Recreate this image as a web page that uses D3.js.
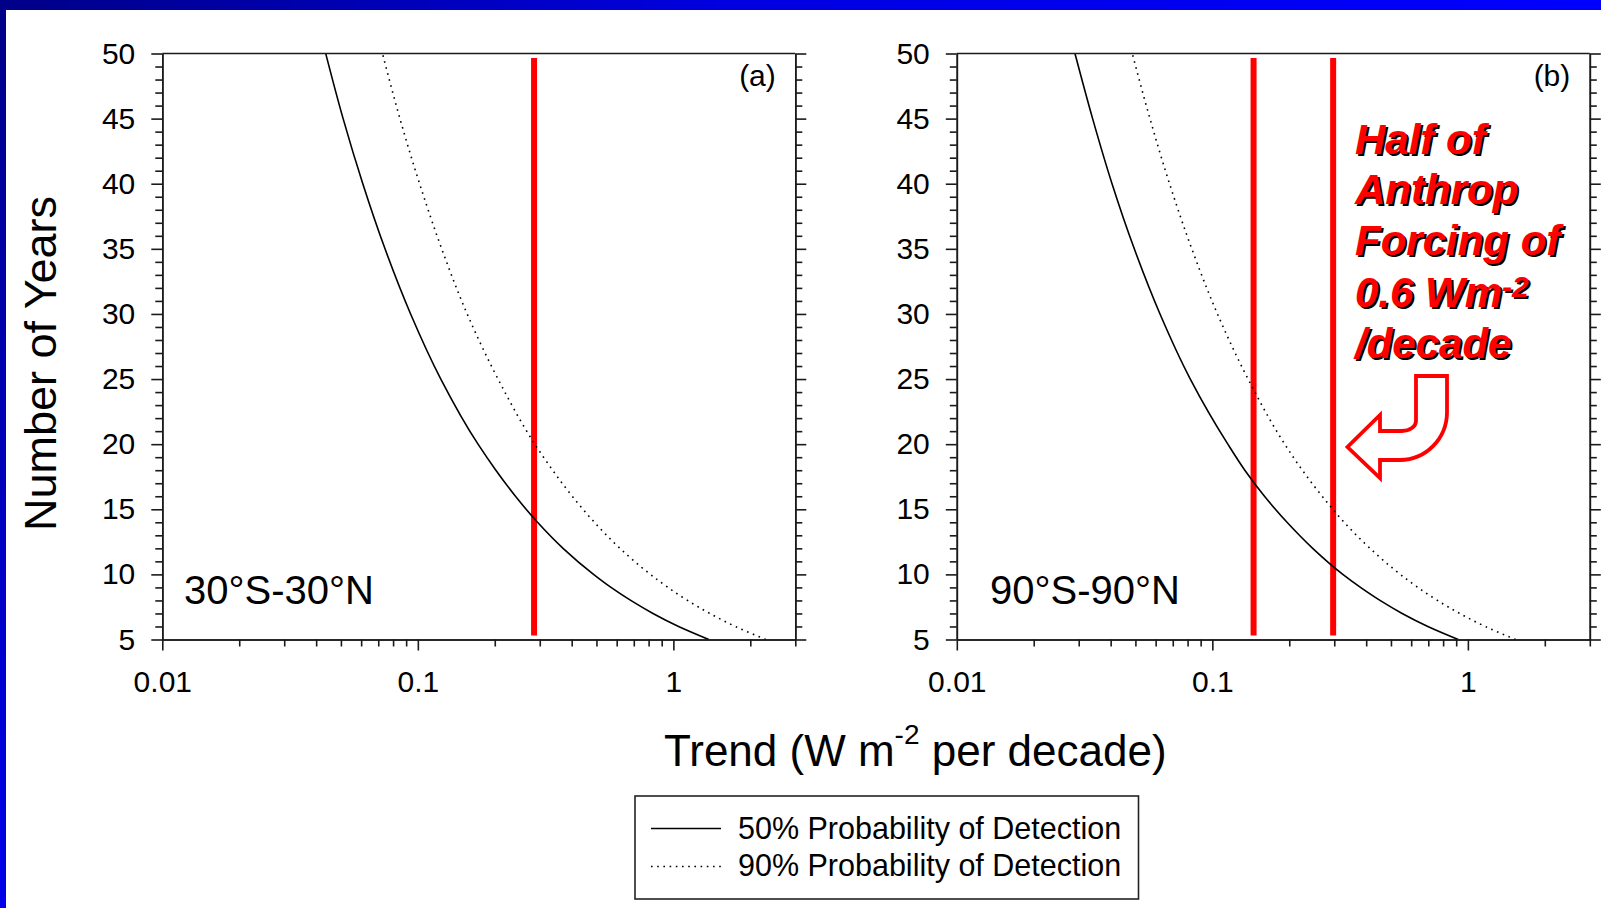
<!DOCTYPE html>
<html><head><meta charset="utf-8">
<script src="https://cdn.jsdelivr.net/npm/d3@7"></script>
<style>
body{margin:0;background:#fff}
svg{display:block}
text{font-family:"Liberation Sans",Arial,Helvetica,sans-serif}
</style>
</head><body>
<svg id="c" width="1601" height="908"></svg>
<script>
// ---------------- data ----------------
const years = [5, 6, 7, 8, 9, 10, 12, 14, 16, 18, 20, 25, 30, 35, 40, 45, 50];
// (a) 30S-30N
const tropics50 = [1.377, 1.048, 0.832, 0.681, 0.570, 0.487, 0.370, 0.294, 0.241, 0.202, 0.172, 0.123, 0.0937, 0.0744, 0.0609, 0.0510, 0.0436];
const tropics90 = [2.299, 1.749, 1.388, 1.136, 0.952, 0.813, 0.618, 0.491, 0.402, 0.337, 0.287, 0.206, 0.156, 0.124, 0.1016, 0.0851, 0.0727];
// (b) 90S-90N
const global50 = [0.917, 0.697, 0.553, 0.453, 0.380, 0.324, 0.247, 0.196, 0.160, 0.134, 0.115, 0.082, 0.0624, 0.0495, 0.0405, 0.0340, 0.0290];
const global90 = [1.538, 1.170, 0.929, 0.760, 0.637, 0.544, 0.414, 0.328, 0.269, 0.225, 0.192, 0.138, 0.1047, 0.0831, 0.0680, 0.0570, 0.0486];
// red reference trends
const tropicsMarkers = [0.285];
const globalMarkers = [0.145, 0.297];
// axes
const xDomain = [0.01, 3];
const yDomain = [5, 50];
const xMajorTicks = [0.01, 0.1, 1];
const xTickLabels = ["0.01", "0.1", "1"];
const xMinorTicks = [0.02, 0.03, 0.04, 0.05, 0.06, 0.07, 0.08, 0.09, 0.2, 0.3, 0.4, 0.5, 0.6, 0.7, 0.8, 0.9, 2, 3];
const yMajorTicks = [5, 10, 15, 20, 25, 30, 35, 40, 45, 50];
const yTickLabels = ["5", "10", "15", "20", "25", "30", "35", "40", "45", "50"];
const legendLabels = ["50% Probability of Detection", "90% Probability of Detection"];
const panelTags = ["(a)", "(b)"];
const regionNames = ["30°S-30°N", "90°S-90°N"];
const annotationLines = ["Half of", "Anthrop", "Forcing of", "0.6 Wm", "/decade"];

// ---------------- layout ----------------
const FONT = '"Liberation Sans", Arial, Helvetica, sans-serif';
const svg = d3.select("#c");
const W = 1601, H = 908;
const defs = svg.append("defs");
const gTop = defs.append("linearGradient").attr("id", "gTop").attr("x1", 0).attr("x2", 1).attr("y1", 0).attr("y2", 0);
gTop.append("stop").attr("offset", 0).attr("stop-color", "#000088");
gTop.append("stop").attr("offset", 0.45).attr("stop-color", "#0000e0");
gTop.append("stop").attr("offset", 1).attr("stop-color", "#0000ff");
const gLeft = defs.append("linearGradient").attr("id", "gLeft").attr("x1", 0).attr("x2", 0).attr("y1", 0).attr("y2", 1);
gLeft.append("stop").attr("offset", 0).attr("stop-color", "#000088");
gLeft.append("stop").attr("offset", 1).attr("stop-color", "#0000ea");

svg.append("rect").attr("width", W).attr("height", H).attr("fill", "#fff");
svg.append("rect").attr("x", 0).attr("y", 0).attr("width", W).attr("height", 10).attr("fill", "url(#gTop)");
svg.append("rect").attr("x", 0).attr("y", 0).attr("width", 6).attr("height", H).attr("fill", "url(#gLeft)");

const plotTop = 53.5, plotBottom = 639.5, plotW = 633;
const y = d3.scaleLinear().domain(yDomain).range([plotBottom, plotTop]);
const yMinorTicks = d3.range(5, 51).filter(v => v % 5 !== 0);
const AX = "#1a1a1a";

function styleAxis(sel, fs) {
  sel.attr("color", AX).attr("font-family", FONT).attr("font-size", fs);
  sel.selectAll(".tick line").attr("stroke-width", 1.6);
  sel.select(".domain").attr("stroke-width", 1.6);
  sel.selectAll("text").attr("fill", "#000");
}

const panels = [
  { left: 162.3, s50: tropics50, s90: tropics90, markers: tropicsMarkers, tag: panelTags[0], region: regionNames[0], regionX: 184 },
  { left: 956.8, s50: global50, s90: global90, markers: globalMarkers, tag: panelTags[1], region: regionNames[1], regionX: 990 }
];

panels.forEach(p => {
  const x = d3.scaleLog().domain(xDomain).range([p.left, p.left + plotW]);
  const g = svg.append("g");

  // red reference lines
  g.selectAll("line.marker").data(p.markers).enter().append("line")
    .attr("class", "marker")
    .attr("x1", d => x(d)).attr("x2", d => x(d))
    .attr("y1", y(49.65)).attr("y2", y(5.3))
    .attr("stroke", "#ff0000").attr("stroke-width", 6);

  // curves
  const line = d3.line().x(d => x(d[1])).y(d => y(d[0])).curve(d3.curveMonotoneY);
  g.append("path").datum(years.map((n, i) => [n, p.s50[i]]))
    .attr("d", line).attr("fill", "none").attr("stroke", "#000").attr("stroke-width", 1.6);
  g.append("path").datum(years.map((n, i) => [n, p.s90[i]]))
    .attr("d", line).attr("fill", "none").attr("stroke", "#000").attr("stroke-width", 1.6)
    .attr("stroke-dasharray", "1.6,4.6");

  // top frame
  g.append("line").attr("x1", p.left).attr("x2", p.left + plotW).attr("y1", plotTop).attr("y2", plotTop)
    .attr("stroke", AX).attr("stroke-width", 1.6);

  // left axis
  g.append("g").attr("transform", `translate(${p.left},0)`)
    .call(d3.axisLeft(y).tickValues(yMinorTicks).tickSize(7).tickSizeOuter(0).tickFormat(""))
    .call(s => styleAxis(s, 30));
  g.append("g").attr("transform", `translate(${p.left},0)`)
    .call(d3.axisLeft(y).tickValues(yMajorTicks).tickSize(11).tickSizeOuter(0).tickPadding(16)
      .tickFormat((d, i) => yTickLabels[i]))
    .call(s => styleAxis(s, 30));
  // right axis
  g.append("g").attr("transform", `translate(${p.left + plotW},0)`)
    .call(d3.axisRight(y).tickValues(yMinorTicks).tickSize(7).tickSizeOuter(0).tickFormat(""))
    .call(s => styleAxis(s, 30));
  g.append("g").attr("transform", `translate(${p.left + plotW},0)`)
    .call(d3.axisRight(y).tickValues(yMajorTicks).tickSize(11).tickSizeOuter(0).tickFormat(""))
    .call(s => styleAxis(s, 30));
  // bottom axis
  g.append("g").attr("transform", `translate(0,${plotBottom})`)
    .call(d3.axisBottom(x).tickValues(xMinorTicks).tickSize(7).tickSizeOuter(0).tickFormat(""))
    .call(s => styleAxis(s, 30));
  g.append("g").attr("transform", `translate(0,${plotBottom})`)
    .call(d3.axisBottom(x).tickValues(xMajorTicks).tickSize(11).tickSizeOuter(0).tickPadding(20)
      .tickFormat((d, i) => xTickLabels[i]))
    .call(s => styleAxis(s, 30));

  // panel tag
  g.append("text").attr("x", p.left + plotW - 19.5).attr("y", 86).attr("text-anchor", "end")
    .attr("font-size", 30).text(p.tag);
  // region label
  g.append("text").attr("x", p.regionX).attr("y", 603.5).attr("font-size", 40).text(p.region);
});

// y-axis title
svg.append("text").attr("transform", "translate(56,363.5) rotate(-90)")
  .attr("text-anchor", "middle").attr("font-size", 45).text("Number of Years");

// x-axis title
const xt = svg.append("text").attr("x", 664).attr("y", 766).attr("font-size", 44);
xt.append("tspan").text("Trend (W m");
xt.append("tspan").attr("font-size", 28).attr("dy", -22).text("-2");
xt.append("tspan").attr("dy", 22).text(" per decade)");

// legend
const lg = svg.append("g");
lg.append("rect").attr("x", 635).attr("y", 796).attr("width", 503.5).attr("height", 103)
  .attr("fill", "#fff").attr("stroke", "#222").attr("stroke-width", 1.6);
const legRows = [{ yLine: 828.5, yText: 838.5, dash: null }, { yLine: 866.5, yText: 875.5, dash: "1.6,4.6" }];
legRows.forEach((r, i) => {
  const l = lg.append("line").attr("x1", 651).attr("x2", 721).attr("y1", r.yLine).attr("y2", r.yLine)
    .attr("stroke", "#000").attr("stroke-width", 1.6);
  if (r.dash) l.attr("stroke-dasharray", r.dash);
  lg.append("text").attr("x", 738).attr("y", r.yText).attr("font-size", 30.5).text(legendLabels[i]);
});

// annotation (red bold italic with black shadow)
const annX = 1355, annBase = [153.5, 204, 255, 306.5, 357.5];
function drawAnn(dx, dy, fill) {
  annotationLines.forEach((t, i) => {
    const tx = svg.append("text").attr("x", annX + dx).attr("y", annBase[i] + dy)
      .attr("font-size", 42).attr("font-weight", "bold").attr("font-style", "italic")
      .attr("fill", fill);
    tx.append("tspan").text(t);
    if (i === 3) {
      tx.append("tspan").attr("font-size", 30).attr("dy", -10).text("-");
      tx.append("tspan").attr("font-size", 30).text("2");
    }
  });
}
drawAnn(2.2, 2.2, "#000");
drawAnn(0, 0, "#ff0000");

// hook arrow
svg.append("path")
  .attr("d", "M1416,376 H1447 V412 A47,48 0 0 1 1400,460 H1380 V478 L1347.5,447 L1380,415 V431 H1402 A14,10 0 0 0 1416,421 Z")
  .attr("fill", "#fff").attr("stroke", "#ff0000").attr("stroke-width", 3.8).attr("stroke-linejoin", "miter");
</script>
</body></html>
